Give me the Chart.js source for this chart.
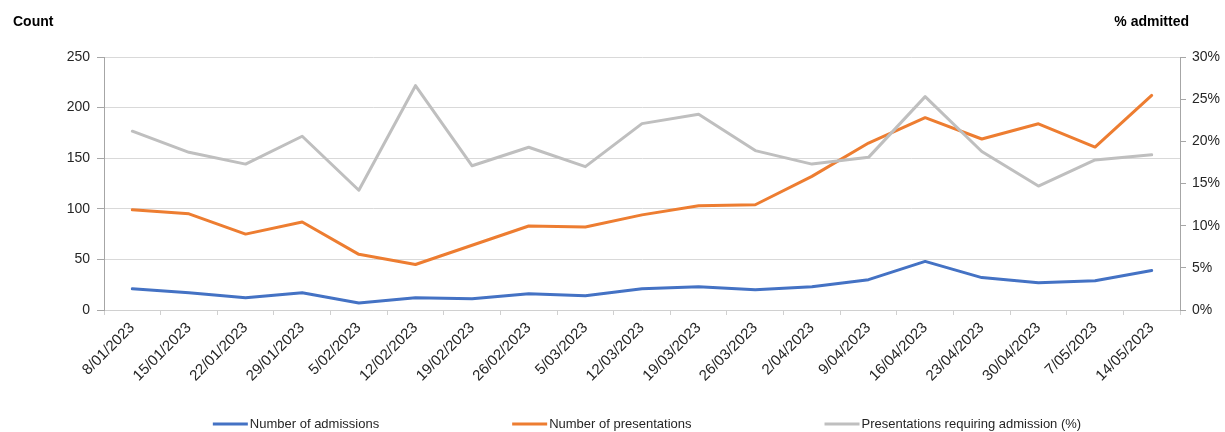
<!DOCTYPE html>
<html>
<head>
<meta charset="utf-8">
<script src="https://cdn.jsdelivr.net/npm/chart.js@4.4.1/dist/chart.umd.min.js"></script>
<style>
  html, body { margin: 0; padding: 0; background: #ffffff; }
  canvas { display: block; }
</style>
</head>
<body>
<canvas id="chart" width="1225" height="432"></canvas>
<script>
// Weekly emergency department activity
const weeks = [
  '8/01/2023', '15/01/2023', '22/01/2023', '29/01/2023', '5/02/2023',
  '12/02/2023', '19/02/2023', '26/02/2023', '5/03/2023', '12/03/2023',
  '19/03/2023', '26/03/2023', '2/04/2023', '9/04/2023', '16/04/2023',
  '23/04/2023', '30/04/2023', '7/05/2023', '14/05/2023'
];
const admissions = [21, 17, 12, 17, 7, 12, 11, 16, 14, 21, 23, 20, 23, 30, 48, 32, 27, 29, 39];
const presentations = [99, 95, 75, 87, 55, 45, 64, 83, 82, 94, 103, 104, 132, 165, 190, 169, 184, 161, 212];
const pctAdmitted = [21.2, 18.7, 17.3, 20.6, 14.2, 26.6, 17.1, 19.3, 17.0, 22.1, 23.2, 18.9, 17.3, 18.1, 25.3, 18.8, 14.7, 17.8, 18.4];

const seriesNames = ['Number of admissions', 'Number of presentations', 'Presentations requiring admission (%)'];
const countAxisTitle = 'Count';
const pctAxisTitle = '% admitted';
const countMax = 250, countStep = 50;
const pctMax = 30, pctStep = 5;

const FONT = "'Liberation Sans', Arial, Helvetica, sans-serif";
Chart.defaults.font.family = FONT;
Chart.defaults.color = '#262626';

// Axis titles above each value axis, and a single-row legend under the chart
const annotations = {
  id: 'annotations',
  afterDraw(chart) {
    const ctx = chart.ctx;
    ctx.save();
    ctx.fillStyle = '#000000';
    ctx.font = 'bold 14px ' + FONT;
    ctx.textBaseline = 'middle';
    ctx.textAlign = 'left';
    ctx.fillText(countAxisTitle, 13, 22);
    ctx.textAlign = 'right';
    ctx.fillText(pctAxisTitle, 1189, 22);

    // legend
    const lineLen = 35, gapText = 2, gapItem = 133, y = 424;
    ctx.font = '13px ' + FONT;
    const items = chart.data.datasets.map(ds => ({
      text: ds.label, color: ds.borderColor,
      w: lineLen + gapText + ctx.measureText(ds.label).width
    }));
    const total = items.reduce((s, it) => s + it.w, 0) + gapItem * (items.length - 1);
    let x = 647 - total / 2;
    ctx.textAlign = 'left';
    ctx.fillStyle = '#262626';
    items.forEach(it => {
      ctx.strokeStyle = it.color;
      ctx.lineWidth = 3;
      ctx.lineCap = 'butt';
      ctx.beginPath();
      ctx.moveTo(x, y);
      ctx.lineTo(x + lineLen, y);
      ctx.stroke();
      ctx.fillText(it.text, x + lineLen + gapText, y);
      x += it.w + gapItem;
    });
    ctx.restore();
  }
};

const lineStyle = {
  borderWidth: 3,
  pointRadius: 0,
  pointHoverRadius: 0,
  tension: 0,
  fill: false,
  borderCapStyle: 'round',
  borderJoinStyle: 'round'
};

new Chart(document.getElementById('chart'), {
  type: 'line',
  data: {
    labels: weeks,
    datasets: [
      Object.assign({ label: seriesNames[0], data: admissions, borderColor: '#4472C4', backgroundColor: '#4472C4', yAxisID: 'y', order: 2 }, lineStyle),
      Object.assign({ label: seriesNames[1], data: presentations, borderColor: '#ED7D31', backgroundColor: '#ED7D31', yAxisID: 'y', order: 1 }, lineStyle),
      Object.assign({ label: seriesNames[2], data: pctAdmitted, borderColor: '#BFBFBF', backgroundColor: '#BFBFBF', yAxisID: 'y1', order: 0 }, lineStyle)
    ]
  },
  options: {
    responsive: false,
    animation: false,
    layout: { padding: { top: 57, left: 0, right: 0, bottom: 0 } },
    plugins: {
      legend: { display: false },
      tooltip: { enabled: false },
      title: { display: false }
    },
    scales: {
      x: {
        offset: true,
        grid: { offset: true, drawOnChartArea: false, drawTicks: true, tickLength: 5, tickColor: '#d0d0d0' },
        border: { color: '#d0d0d0', width: 1 },
        ticks: { autoSkip: false, minRotation: 45, maxRotation: 45, padding: 4, font: { size: 15 }, color: '#262626' },
        afterFit(scale) { scale.height = 122; }
      },
      y: {
        position: 'left',
        min: 0, max: countMax,
        ticks: { stepSize: countStep, padding: 7, font: { size: 14 }, color: '#262626' },
        grid: { color: '#d9d9d9', tickColor: '#a6a6a6', tickLength: 7, lineWidth: 1 },
        border: { color: '#a6a6a6', width: 1 },
        afterFit(scale) { scale.width = 104; }
      },
      y1: {
        position: 'right',
        min: 0, max: pctMax,
        ticks: { stepSize: pctStep, padding: 6, font: { size: 14 }, color: '#262626', callback: v => v + '%' },
        grid: { drawOnChartArea: false, tickColor: '#a6a6a6', tickLength: 6 },
        border: { color: '#a6a6a6', width: 1 },
        afterFit(scale) { scale.width = 45; }
      }
    }
  },
  plugins: [annotations]
});
</script>
</body>
</html>
